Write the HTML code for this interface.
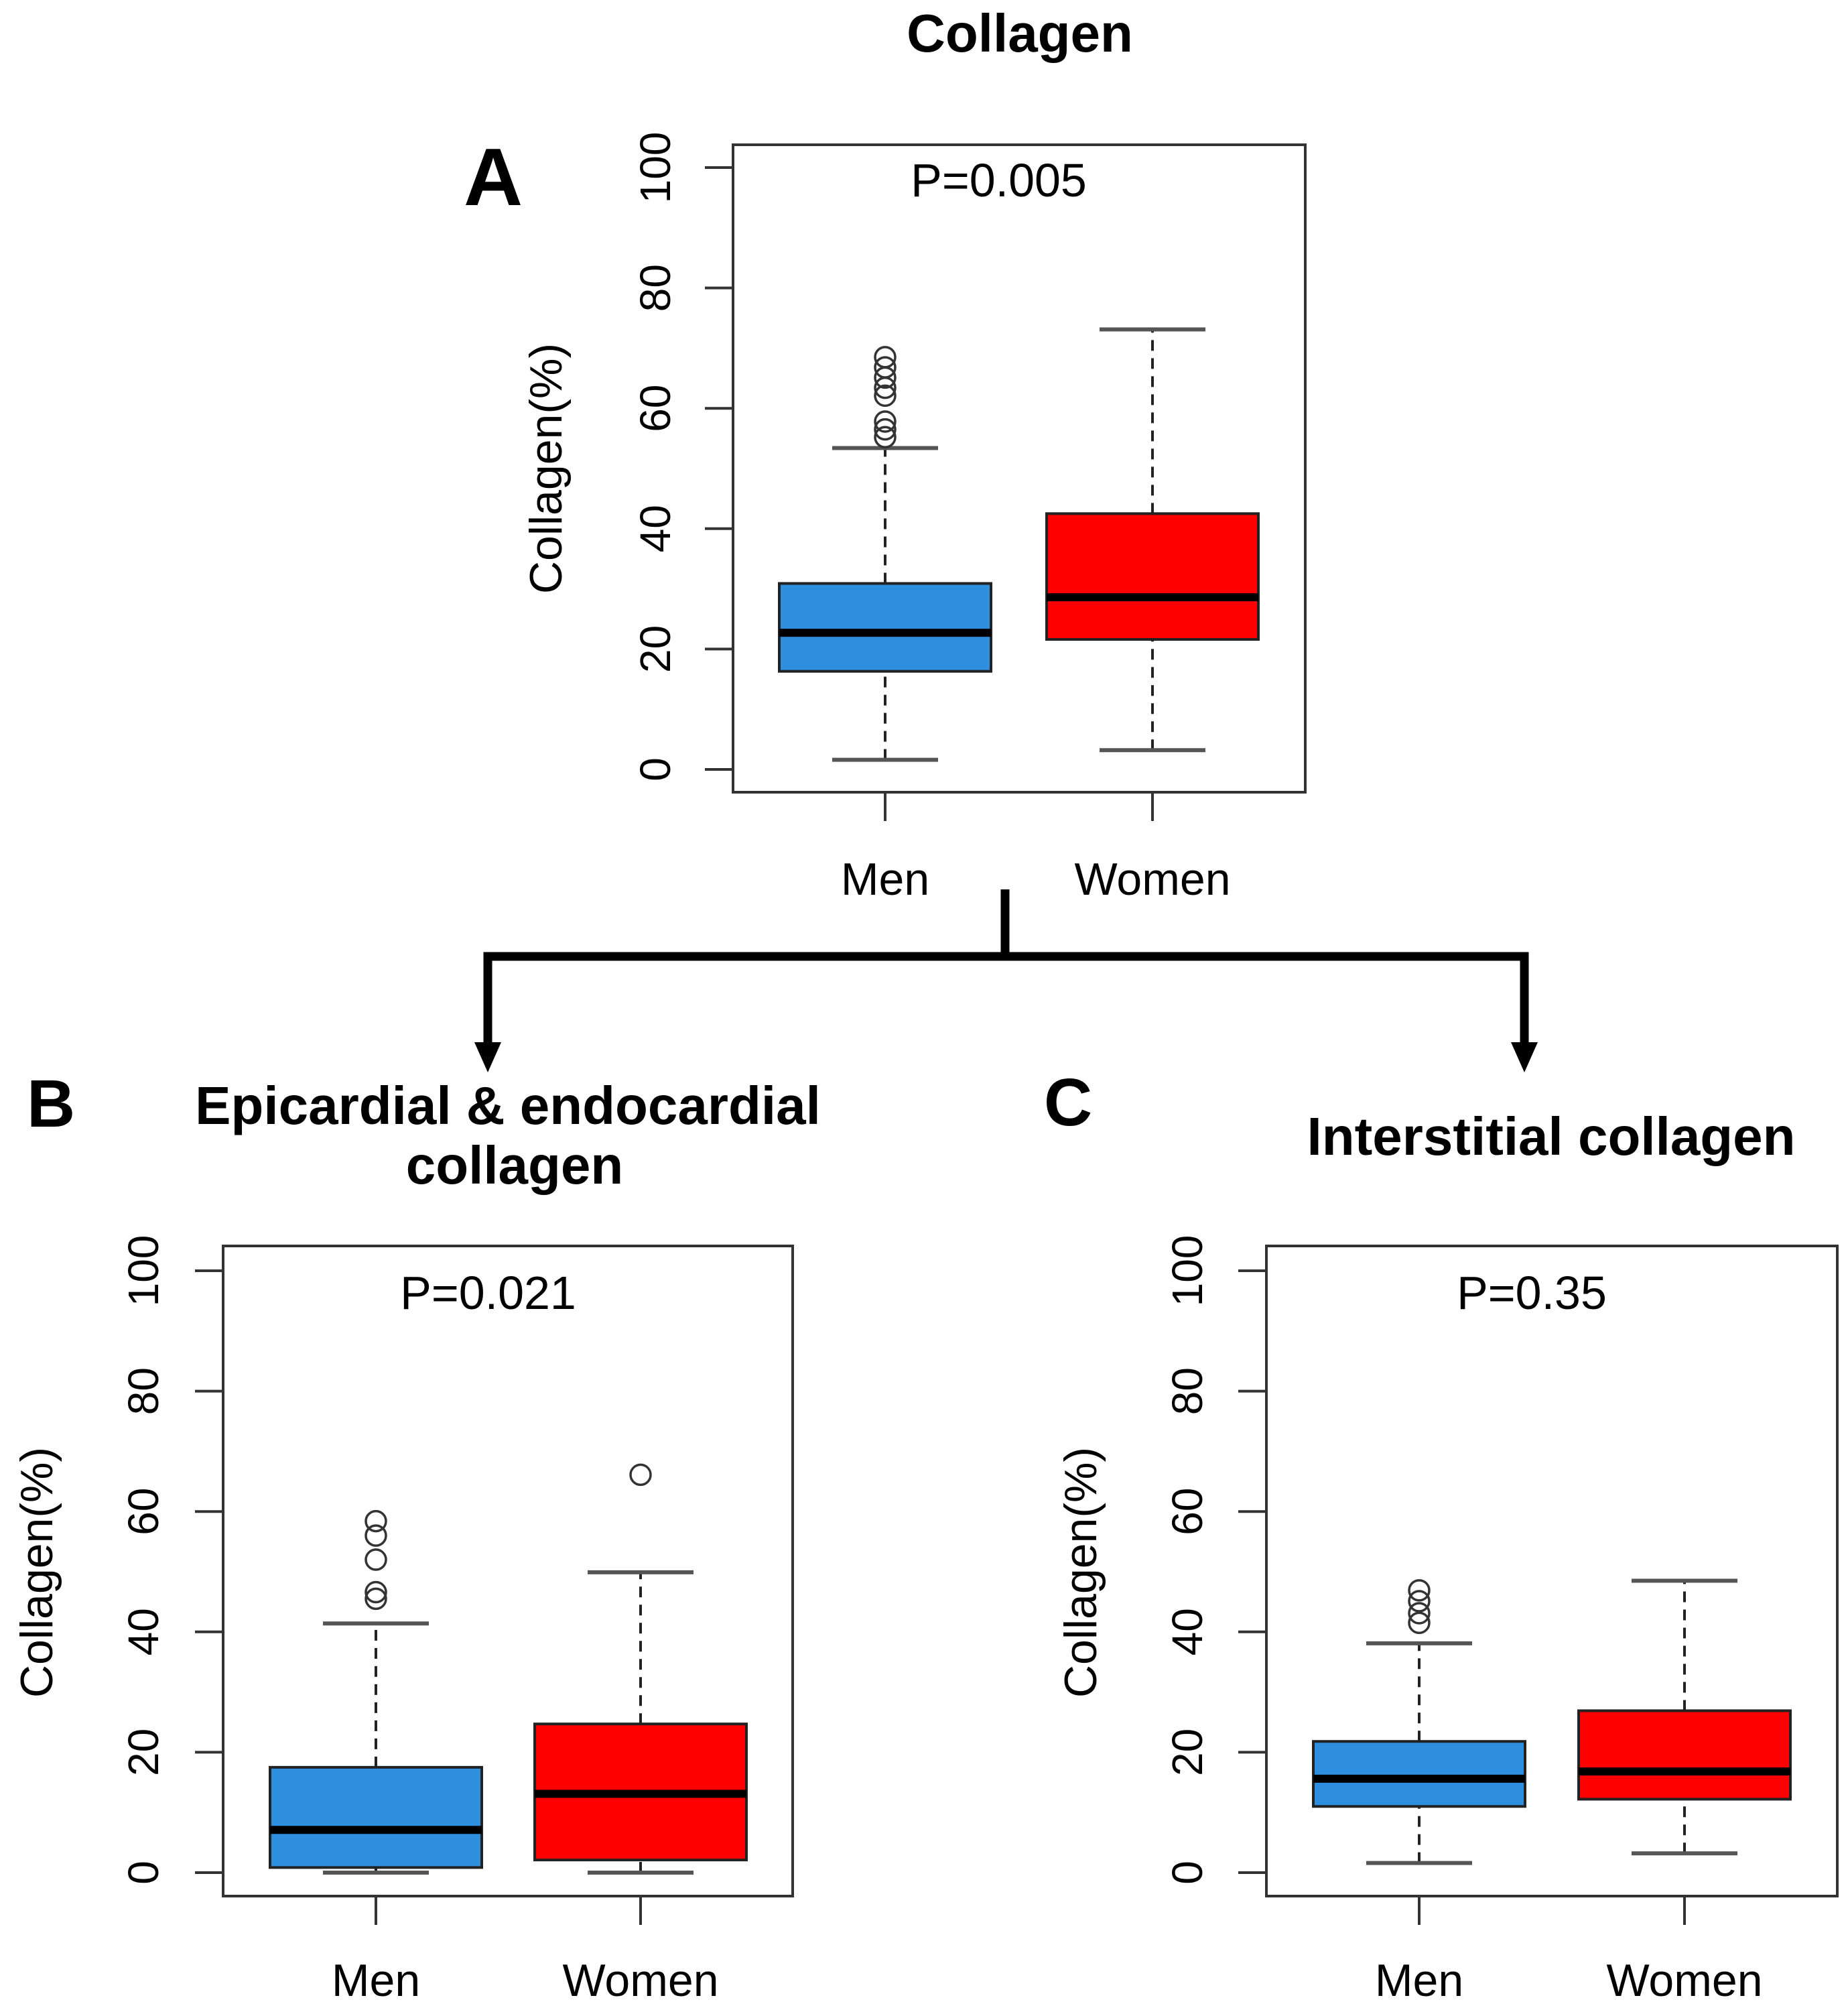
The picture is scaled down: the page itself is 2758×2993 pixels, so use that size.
<!DOCTYPE html>
<html><head><meta charset="utf-8"><style>
html,body{margin:0;padding:0;background:#fff;}
svg{display:block;font-family:"Liberation Sans",sans-serif;}
</style></head><body>
<svg id="fig" width="2758" height="2993" viewBox="0 0 2758 2993" xmlns="http://www.w3.org/2000/svg">
<text x="1522" y="77" font-size="80" font-weight="bold" text-anchor="middle">Collagen</text>
<text x="692" y="306" font-size="122" font-weight="bold">A</text>
<text x="40" y="1681" font-size="100" font-weight="bold">B</text>
<text x="1558" y="1679" font-size="100" font-weight="bold">C</text>
<text x="758" y="1677" font-size="80" font-weight="bold" text-anchor="middle">Epicardial &amp; endocardial</text>
<text x="768" y="1766" font-size="80" font-weight="bold" text-anchor="middle">collagen</text>
<text x="2315" y="1723" font-size="80" font-weight="bold" text-anchor="middle">Interstitial collagen</text>
<g stroke="#000" stroke-width="13" fill="none">
<line x1="1500" y1="1327" x2="1500" y2="1427"/>
<polyline points="728,1560 728,1427 2275,1427 2275,1560"/>
</g>
<polygon points="708,1555 748,1555 728,1600" fill="#000"/>
<polygon points="2255,1555 2295,1555 2275,1600" fill="#000"/>
<g id="panels"></g>
</svg>
<script>
const groups = ["Men", "Women"];
const ticks = [0, 20, 40, 60, 80, 100];
// [lowerWhisker, Q1, median, Q3, upperWhisker]
const aMen = [1.6, 16.3, 22.7, 30.9, 53.4];
const aWomen = [3.2, 21.6, 28.6, 42.5, 73.1];
const aMenOut = [68.5, 66.8, 65.1, 63.4, 62.1, 57.8, 56.5, 55.2];
const aWomenOut = [];
const bMen = [0, 0.85, 7.1, 17.5, 41.4];
const bWomen = [0, 2.1, 13.1, 24.7, 49.9];
const bMenOut = [45.5, 46.6, 52, 56, 58.4];
const bWomenOut = [66.1];
const cMen = [1.6, 11, 15.6, 21.8, 38.1];
const cWomen = [3.2, 12.2, 16.8, 26.9, 48.5];
const cMenOut = [41.5, 43.1, 45.1, 46.9];
const cWomenOut = [];
const pLabels = ["P=0.005", "P=0.021", "P=0.35"];

const NS = "http://www.w3.org/2000/svg";
const root = document.getElementById("panels");
function mk(tag, attrs, parent) {
  const e = document.createElementNS(NS, tag);
  for (const k in attrs) e.setAttribute(k, attrs[k]);
  (parent || root).appendChild(e);
  return e;
}
function panel(id, L, R, T, B, y0, y100, xs, stats, outs, pText, pY, tickX, labX, labY, catY) {
  const g = mk("g", {});
  
  
  const y = v => y0 + (y100 - y0) * v / 100;
  const cols = ["#2F8FDF", "#FF0000"];
  // whiskers, boxes
  stats.forEach((s, i) => {
    const cx = xs[i];
    const bg = mk("g", {}, g);
    
    
    mk("line", {x1: cx, x2: cx, y1: y(s[0]), y2: y(s[1]), stroke: "#222", "stroke-width": 4, "stroke-dasharray": "16 11"}, bg);
    mk("line", {x1: cx, x2: cx, y1: y(s[3]), y2: y(s[4]), stroke: "#222", "stroke-width": 4, "stroke-dasharray": "16 11"}, bg);
    mk("line", {x1: cx - 79, x2: cx + 79, y1: y(s[0]), y2: y(s[0]), stroke: "#555", "stroke-width": 6}, bg);
    mk("line", {x1: cx - 79, x2: cx + 79, y1: y(s[4]), y2: y(s[4]), stroke: "#555", "stroke-width": 6}, bg);
    mk("rect", {x: cx - 158, y: y(s[3]), width: 316, height: y(s[1]) - y(s[3]), fill: cols[i], stroke: "#222", "stroke-width": 4}, bg);
    mk("line", {x1: cx - 158, x2: cx + 158, y1: y(s[2]), y2: y(s[2]), stroke: "#000", "stroke-width": 12}, bg);
    outs[i].forEach(v => {
      const c = mk("circle", {cx: cx, cy: y(v), r: 15, fill: "none", stroke: "#333", "stroke-width": 3.5}, bg);
      
      
    });
  });
  const frame = mk("rect", {x: L, y: T, width: R - L, height: B - T, fill: "none", stroke: "#333", "stroke-width": 4}, g);
  
  
  ticks.forEach(t => {
    mk("line", {x1: L - 42, x2: L, y1: y(t), y2: y(t), stroke: "#333", "stroke-width": 4}, g);
    const tx = mk("text", {x: 0, y: 0, "font-size": 64, "text-anchor": "middle", transform: "translate(" + (tickX + 23) + "," + y(t) + ") rotate(-90)"}, g);
    tx.textContent = t;
    
    
  });
  xs.forEach((cx, i) => {
    mk("line", {x1: cx, x2: cx, y1: B, y2: B + 43, stroke: "#333", "stroke-width": 4}, g);
    const tx = mk("text", {x: cx, y: catY, "font-size": 68, "text-anchor": "middle"}, g);
    tx.textContent = groups[i];
    
    
  });
  const yl = mk("text", {x: 0, y: 0, "font-size": 68, "text-anchor": "middle", transform: "translate(" + (labX + 24) + "," + labY + ") rotate(-90)"}, g);
  yl.textContent = "Collagen(%)";
  
  
  const pt = mk("text", {x: (xs[0] + xs[1]) / 2 - 30, y: pY, "font-size": 70, "text-anchor": "middle"}, g);
  pt.textContent = pText;
  
  
}
panel("a", 1094, 1948, 216, 1182, 1148, 250, [1321, 1720], [aMen, aWomen], [aMenOut, aWomenOut], pLabels[0], 293, 977, 814, 699, 1335);
panel("b", 333, 1183, 1859, 2829, 2794, 1896, [561, 956], [bMen, bWomen], [bMenOut, bWomenOut], pLabels[1], 1953, 213, 54, 2346, 2978);
panel("c", 1890, 2742, 1859, 2829, 2794, 1896, [2118, 2514], [cMen, cWomen], [cMenOut, cWomenOut], pLabels[2], 1953, 1771, 1612, 2346, 2978);
</script>
</body></html>
